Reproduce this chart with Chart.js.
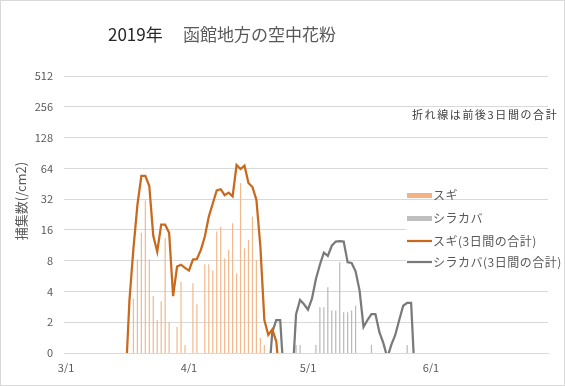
<!DOCTYPE html>
<html lang="ja">
<head>
<meta charset="utf-8">
<title>2019年 函館地方の空中花粉</title>
<script src="https://cdn.jsdelivr.net/npm/chart.js@4/dist/chart.umd.min.js"></script>
<style>
  html, body { margin: 0; padding: 0; background: #fff; }
</style>
</head>
<body>
<canvas id="grafik" width="565" height="386"></canvas>
<script>
// 3/1 を 0 日目として数える
const xTickDays = [0, 31, 61, 92];
const xTickLabels = ["3/1", "4/1", "5/1", "6/1"];
const yTicks = [1, 2, 4, 8, 16, 32, 64, 128, 256, 512];
const yTickLabels = ["0", "2", "4", "8", "16", "32", "64", "128", "256", "512"];

// スギ 日別 (3/16 から)
const sugiStart = 15;
const sugi = [0, 0, 3.4, 8.2, 15, 31, 8.2, 3.6, 2.1, 3.2, 13.3, 2, 0, 1.8, 5, 1.2, 0, 4.8, 3, 0,
  7.4, 7.4, 6.4, 15.4, 17.2, 8.4, 10.2, 18.6, 6, 46, 10.6, 12.8, 21.6, 8.1, 1.4, 1.2];

// シラカバ 日別 (4/28 から)
const shirakabaStart = 58;
const shirakaba = [1.2, 1.2, 0, 0, 0, 1.2, 2.8, 2.8, 4.4, 2.6, 2.6, 7.7, 2.5, 2.5, 2.6, 2.9,
  0, 0, 0, 1.2, 0, 0, 0, 0, 0, 0, 0, 0, 1.2];

// 前後3日間の合計 (1 未満は軸の下)
const sugi3Start = 15;
const sugi3 = [0.5, 3.3, 10.5, 28, 54, 54, 43, 14, 9.8, 18, 18, 15, 3.6, 7, 7.3, 6.8, 6.4, 8.2, 8.3,
  10.2, 13.8, 21.6, 29, 39, 40, 35, 37, 34, 69, 63, 68, 46, 42, 31.5, 11, 2.1, 1.5, 1.7, 1.3, 0.5];

const shirakaba3Start = 51;
const shirakaba3 = [0.5, 1.6, 2.1, 2.1, 0.5, null, 0.5, 2.4, 3.3, 3.0, 2.65, 3.4, 5.3, 7.3, 9.6,
  8.9, 11.2, 12.3, 12.4, 12.3, 7.7, 7.6, 6.3, 4.1, 1.8, 2.1, 2.4, 2.4, 1.6, 1.25, 0.9, 1.2, 1.5,
  2.1, 2.9, 3.1, 3.1, 0.5];

const titleYear = "2019年";
const titleMain = "函館地方の空中花粉";
const yAxisTitle = "捕集数(/cm2)";
const noteText = "折れ線は前後3日間の合計";

const FONT = '"Noto Sans CJK JP", "Noto Sans", sans-serif';

function toPoints(start, values) {
  return values.map((v, i) => ({ x: start + i, y: v }));
}

// 文字・凡例・枠を描く
const hiasan = {
  id: "hiasan",
  afterDraw(chart) {
    const ctx = chart.ctx;
    ctx.save();
    ctx.textBaseline = "middle";
    ctx.textAlign = "left";

    ctx.font = `17px ${FONT}`;
    ctx.fillStyle = "#262626";
    ctx.fillText(titleYear, 108, 35);
    ctx.fillStyle = "#595959";
    ctx.fillText(titleMain, 183, 35);

    ctx.save();
    ctx.translate(21.5, 201);
    ctx.rotate(-Math.PI / 2);
    ctx.textAlign = "center";
    ctx.font = `13px ${FONT}`;
    ctx.fillText(yAxisTitle, 0, 0);
    ctx.restore();

    ctx.font = `11px ${FONT}`;
    ctx.letterSpacing = "1.6px";
    ctx.fillStyle = "#404040";
    ctx.fillText(noteText, 412, 115);

    // 凡例
    ctx.fillStyle = "#fff";
    ctx.fillRect(406, 204, 143, 70);
    const rows = [195.5, 218.5, 241, 262];
    const lx = 407;
    ctx.font = `12px ${FONT}`;
    ctx.letterSpacing = "0.5px";
    chart.data.datasets.forEach((ds, i) => {
      const y = rows[i];
      if (ds.type === "bar") {
        ctx.fillStyle = ds.legendColor;
        ctx.fillRect(lx, y - 2.5, 25, 5);
      } else {
        ctx.strokeStyle = ds.borderColor;
        ctx.lineWidth = ds.borderWidth;
        ctx.beginPath();
        ctx.moveTo(lx, y);
        ctx.lineTo(lx + 25, y);
        ctx.stroke();
      }
      ctx.fillStyle = "#595959";
      ctx.fillText(ds.label, lx + 26, y);
    });

    ctx.letterSpacing = "0px";
    ctx.strokeStyle = "#d9d9d9";
    ctx.lineWidth = 1;
    ctx.strokeRect(0.5, 0.5, 564, 385);
    ctx.restore();
  }
};

new Chart(document.getElementById("grafik"), {
  type: "bar",
  data: {
    datasets: [
      {
        type: "bar", label: "スギ", data: toPoints(sugiStart, sugi),
        backgroundColor: "#f2b98c", legendColor: "#f4b183",
        grouped: false, maxBarThickness: 1.2, order: 2
      },
      {
        type: "bar", label: "シラカバ", data: toPoints(shirakabaStart, shirakaba),
        backgroundColor: "#b8b8b8", legendColor: "#bfbfbf",
        grouped: false, maxBarThickness: 1.2, order: 2
      },
      {
        type: "line", label: "スギ(3日間の合計)", data: toPoints(sugi3Start, sugi3),
        borderColor: "#c8691c", borderWidth: 2.25, pointRadius: 0, tension: 0, order: 1
      },
      {
        type: "line", label: "シラカバ(3日間の合計)", data: toPoints(shirakaba3Start, shirakaba3),
        borderColor: "#7a7a7a", borderWidth: 2.25, pointRadius: 0, tension: 0, order: 1
      }
    ]
  },
  options: {
    responsive: false,
    animation: false,
    layout: { padding: { top: 76, right: 17, bottom: 13, left: 14 } },
    plugins: { legend: { display: false }, tooltip: { enabled: false } },
    scales: {
      x: {
        type: "linear",
        min: -0.5,
        max: 121.5,
        offset: false,
        afterFit: s => { s.height = 20; },
        afterBuildTicks: s => { s.ticks = xTickDays.map(v => ({ value: v })); },
        grid: { display: false, drawTicks: false },
        border: { display: true, color: "#d9d9d9" },
        ticks: {
          autoSkip: false, maxRotation: 0, padding: 8,
          color: "#595959", font: { size: 11, family: FONT },
          callback: (v, i) => xTickLabels[i]
        }
      },
      y: {
        type: "logarithmic",
        min: 1,
        max: 512,
        afterFit: s => { s.width = 50; },
        afterBuildTicks: s => { s.ticks = yTicks.map(v => ({ value: v })); },
        grid: { color: "#d9d9d9", drawTicks: false },
        border: { display: false },
        ticks: {
          padding: 11,
          color: "#595959", font: { size: 11, family: FONT },
          callback: (v, i) => yTickLabels[i]
        }
      }
    }
  },
  plugins: [hiasan]
});
</script>
</body>
</html>
